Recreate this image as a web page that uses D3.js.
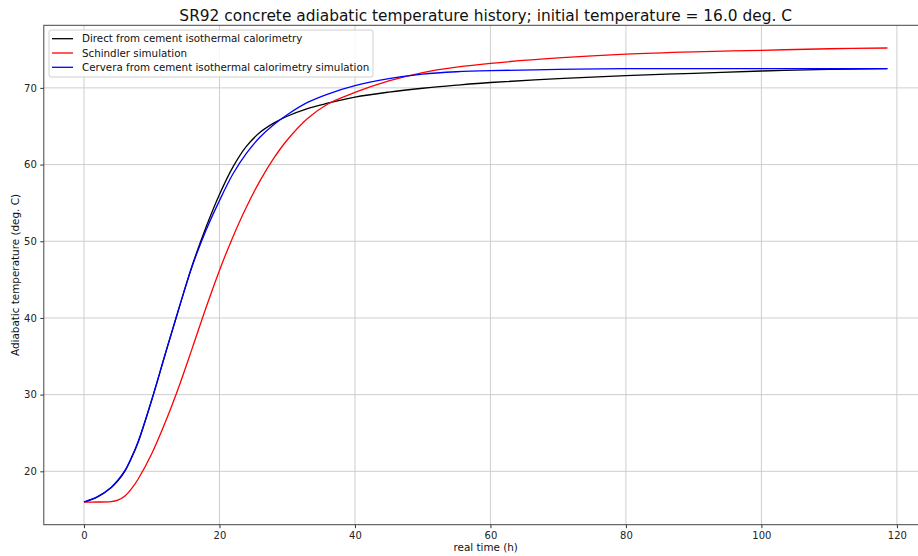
<!DOCTYPE html>
<html>
<head>
<meta charset="utf-8">
<script src="https://cdn.jsdelivr.net/npm/d3@7"></script>
<style>
  body { margin: 0; background: #fff; }
  svg { font-family: "DejaVu Sans", sans-serif; }
</style>
</head>
<body>
<div class="plot"></div>
<script>
// Data
const time = [0, 2, 4, 5, 6, 7, 8, 10, 12, 14, 16, 18, 20, 22, 24, 26, 28, 30, 33, 36, 40, 45, 50, 55, 60, 70, 80, 90, 100, 110, 118.6];
const direct = [16.0, 16.65, 17.85, 18.75, 19.95, 21.7, 23.8, 29.3, 35.3, 41.2, 46.9, 51.8, 56.1, 59.7, 62.4, 64.2, 65.4, 66.3, 67.3, 68.0, 68.8, 69.45, 69.95, 70.35, 70.7, 71.2, 71.6, 71.9, 72.2, 72.4, 72.5];
const schindler = [16.0, 16.0, 16.05, 16.25, 16.75, 17.7, 19.0, 22.3, 26.4, 31.0, 36.1, 41.3, 46.2, 50.6, 54.5, 57.9, 60.8, 63.2, 66.0, 67.9, 69.4, 70.9, 72.0, 72.7, 73.2, 73.9, 74.4, 74.7, 74.9, 75.1, 75.2];
const cervera = [16.0, 16.7, 17.9, 18.85, 20.05, 21.8, 23.9, 29.3, 35.3, 41.2, 46.8, 51.4, 55.3, 58.8, 61.5, 63.6, 65.2, 66.5, 68.1, 69.2, 70.3, 71.2, 71.8, 72.1, 72.25, 72.4, 72.5, 72.5, 72.5, 72.5, 72.5];

const seriesNames = ["Direct from cement isothermal calorimetry", "Schindler simulation", "Cervera from cement isothermal calorimetry simulation"];
const seriesColors = ["black", "red", "blue"];
const seriesValues = [direct, schindler, cervera];
const xTicks = [0, 20, 40, 60, 80, 100, 120];
const yTicks = [20, 30, 40, 50, 60, 70];

const W = 918, H = 556;
const margin = {top: 25.3, right: -9.6, bottom: 31.3, left: 43.8};
const w = W - margin.left - margin.right;
const h = H - margin.top - margin.bottom;

const svg = d3.select(".plot")
    .append("svg")
        .attr("width", W)
        .attr("height", H);

const g = svg.append("g")
    .attr("transform", "translate(" + margin.left + "," + margin.top + ")");

// matplotlib-like 5% padding
const pad = (ext) => { const r = ext[1] - ext[0]; return [ext[0] - r * 0.05, ext[1] + r * 0.05]; };
const allY = seriesValues.flat();

const x = d3.scaleLinear().domain(pad(d3.extent(time))).range([0, w]);
const y = d3.scaleLinear().domain(pad(d3.extent(allY))).range([h, 0]);

// Grid
g.append("g").selectAll("line")
    .data(xTicks).enter().append("line")
        .attr("x1", d => x(d)).attr("x2", d => x(d))
        .attr("y1", 0).attr("y2", h)
        .attr("stroke", "#c8c8c8").attr("stroke-width", 0.9);
g.append("g").selectAll("line")
    .data(yTicks).enter().append("line")
        .attr("x1", 0).attr("x2", w)
        .attr("y1", d => y(d)).attr("y2", d => y(d))
        .attr("stroke", "#c8c8c8").attr("stroke-width", 0.9);

// Axes
const xAxis = g.append("g")
    .attr("transform", "translate(0," + h + ")")
    .call(d3.axisBottom(x).tickValues(xTicks).tickSize(3.5).tickPadding(3.5).tickSizeOuter(0));
const yAxis = g.append("g")
    .call(d3.axisLeft(y).tickValues(yTicks).tickSize(3.5).tickPadding(3.5).tickSizeOuter(0));
[xAxis, yAxis].forEach(a => {
    a.select(".domain").remove();
    a.selectAll("text").style("font-size", "10px").style("font-family", "DejaVu Sans").attr("fill", "#222");
    a.selectAll("line").attr("stroke", "#333");
});

// Spines
g.append("rect")
    .attr("x", 0).attr("y", 0).attr("width", w).attr("height", h)
    .attr("fill", "none").attr("stroke", "#444").attr("stroke-width", 1);

// Lines
const line = d3.line().curve(d3.curveCatmullRom.alpha(0.5));
seriesValues.forEach((vals, i) => {
    g.append("path")
        .datum(time.map((t, j) => [x(t), y(vals[j])]))
        .attr("d", line)
        .attr("fill", "none")
        .attr("stroke", seriesColors[i])
        .attr("stroke-width", 1.3);
});

// Title
svg.append("text")
    .attr("x", margin.left + w / 2)
    .attr("y", 21)
    .attr("text-anchor", "middle")
    .style("font-size", "15.4px")
    .attr("fill", "#111")
    .text("SR92 concrete adiabatic temperature history; initial temperature = 16.0 deg. C");

// Axis labels
svg.append("text")
    .attr("x", margin.left + w / 2)
    .attr("y", 551)
    .attr("text-anchor", "middle")
    .style("font-size", "10.4px")
    .attr("fill", "#111")
    .text("real time (h)");
svg.append("text")
    .attr("transform", "translate(19," + (margin.top + h / 2) + ") rotate(-90)")
    .attr("text-anchor", "middle")
    .style("font-size", "10.4px")
    .attr("fill", "#111")
    .text("Adiabatic temperature (deg. C)");

// Legend
const legend = svg.append("g").attr("transform", "translate(49,30)");
legend.append("rect")
    .attr("width", 324).attr("height", 47).attr("rx", 2)
    .attr("fill", "white").attr("fill-opacity", 0.8)
    .attr("stroke", "#d0d0d0").attr("stroke-width", 1);
seriesNames.forEach((name, i) => {
    const row = legend.append("g").attr("transform", "translate(0," + (8.7 + i * 14.3) + ")");
    row.append("line")
        .attr("x1", 3).attr("x2", 24)
        .attr("stroke", seriesColors[i]).attr("stroke-width", 1.3);
    row.append("text")
        .attr("x", 33).attr("y", 3.7)
        .style("font-size", "10.3px")
        .attr("fill", "#111")
        .text(name);
});
</script>
</body>
</html>
